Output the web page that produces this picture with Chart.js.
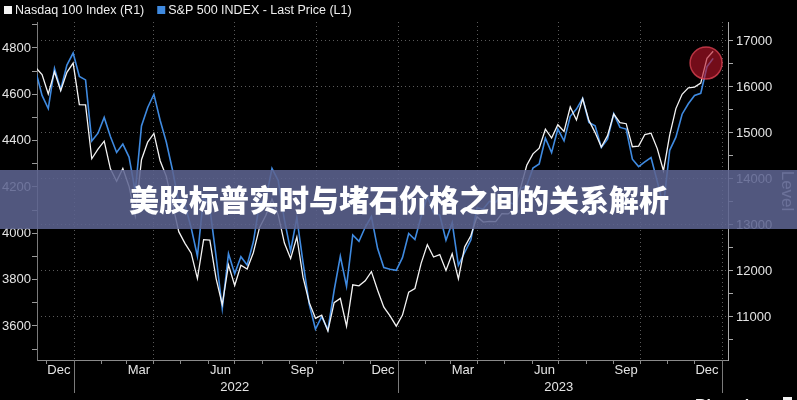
<!DOCTYPE html>
<html>
<head>
<meta charset="utf-8">
<script src="https://cdn.jsdelivr.net/npm/chart.js@4.4.1/dist/chart.umd.min.js"></script>
<style>
  html, body { margin: 0; padding: 0; background: #000; }
  #wrap { width: 797px; height: 400px; }
</style>
</head>
<body>
<div id="wrap"><canvas id="chart" width="797" height="400"></canvas></div>
<script>
// weekly closes, first one on this date
const firstWeek = "2021-11-19";

// S&P 500 (left axis, L1)
const spx = [
  4698, 4595, 4538, 4712, 4621, 4726, 4778,
  4677, 4662, 4398, 4432, 4500, 4418, 4349, 4385, 4329, 4180, 4463, 4543,
  4600, 4488, 4393, 4272, 4132, 4123, 4023, 3901, 4158, 4109, 3901, 3675,
  3912, 3825, 3899, 3863, 3962, 4130, 4145, 4280, 4228, 4058, 3924, 4067,
  3873, 3693, 3586, 3640, 3583, 3753, 3901, 3771, 3993, 3965, 4026, 4072,
  3934, 3852, 3845, 3840,
  3895, 3999, 3973, 4071, 4160, 4090, 4079, 3970, 4046, 3862, 3917, 3971,
  4109, 4105, 4138, 4133, 4169, 4136, 4124, 4192, 4205, 4282, 4299, 4410,
  4348, 4450, 4399, 4505, 4536, 4582, 4478, 4464, 4370, 4406, 4516, 4457,
  4450, 4320, 4288, 4308, 4327, 4224, 4117, 4358, 4415, 4514, 4559, 4595,
  4604, 4719, 4755
];

// Nasdaq 100 (right axis, R1)
const ndx = [
  16420, 16268, 15849, 16331, 15918, 16318, 16520,
  15615, 15611, 14440, 14648, 14822, 14221, 13949, 14229, 13838, 13200, 14420, 14801,
  14990, 14398, 14053, 13453, 12855, 12601, 12387, 11835, 12681, 12673, 11840, 11271,
  12132, 11686, 12125, 12042, 12397, 12947, 13206, 13565, 13220, 12606, 12271, 12739,
  11861, 11312, 10971, 11039, 10693, 11310, 11405, 10800, 11699, 11677, 11786, 11986,
  11580, 11215, 11024, 10800,
  11041, 11541, 11619, 12166, 12573, 12304, 12358, 12012, 12374, 11830, 12520, 12767,
  13181, 13063, 13079, 13073, 13246, 13241, 13340, 13805, 14299, 14547, 14671, 15083,
  14891, 15179, 15036, 15565, 15283, 15750, 15274, 15009, 14694, 14942, 15413, 15226,
  15202, 14701, 14715, 14966, 14996, 14661, 14180, 14955, 15530, 15842, 15983, 15997,
  16085, 16624, 16778
];

const leftTicks = [3600, 3800, 4000, 4200, 4400, 4600, 4800];
const rightTicks = [11000, 12000, 13000, 14000, 15000, 16000, 17000];
const monthLabels = ["Dec", "Mar", "Jun", "Sep", "Dec", "Mar", "Jun", "Sep", "Dec"];
const monthLabelDates = ["2021-12-15", "2022-03-15", "2022-06-15", "2022-09-15", "2022-12-15",
  "2023-03-15", "2023-06-15", "2023-09-15", "2023-12-15"];
const yearLabels = ["2022", "2023"];
const yearMids = ["2022-07-01", "2023-07-01"];
const yearStarts = ["2022-01-01", "2023-01-01", "2024-01-01"];
const titleText = "美股标普实时与堵石价格之间的关系解析";

const DAY = 864e5;
const origin = Date.parse("2022-01-01");
function dayOf(s) { return (Date.parse(s) - origin) / DAY; }

const x0 = dayOf(firstWeek);
const spxPts = spx.map((v, i) => ({ x: x0 + 7 * i, y: v }));
const ndxPts = ndx.map((v, i) => ({ x: x0 + 7 * i, y: v }));

// month starts for the axis tick marks
const monthStarts = [];
for (let y = 2021; y <= 2024; y++) {
  for (let m = 0; m < 12; m++) {
    const d = (Date.UTC(y, m, 1) - origin) / DAY;
    if (d > -42 && d < 737) monthStarts.push({ d: d, q: m % 3 === 0 });
  }
}

const tickFont = { family: "'Liberation Sans', Arial, sans-serif", size: 13 };

const overlay = {
  id: "overlay",
  beforeDraw(chart) {
    const ctx = chart.ctx;
    ctx.save();
    ctx.fillStyle = "#000";
    ctx.fillRect(0, 0, chart.width, chart.height);
    ctx.restore();
  },
  afterDatasetsDraw(chart) {
    const ctx = chart.ctx;
    const cx = chart.scales.x.getPixelForValue(dayOf("2023-12-14"));
    const cy = chart.scales.y1.getPixelForValue(16520);
    ctx.save();
    ctx.beginPath();
    ctx.arc(cx, cy, 16, 0, Math.PI * 2);
    ctx.fillStyle = "rgba(185, 20, 40, 0.62)";
    ctx.fill();
    ctx.lineWidth = 1.5;
    ctx.strokeStyle = "rgba(225, 70, 85, 0.75)";
    ctx.stroke();
    ctx.restore();
  },
  afterDraw(chart) {
    const ctx = chart.ctx;
    const xs = chart.scales.x;
    const area = chart.chartArea;
    ctx.save();

    // month + year labels
    ctx.font = "13px 'Liberation Sans', Arial, sans-serif";
    ctx.fillStyle = "#e4e4e4";
    ctx.textAlign = "center";
    ctx.textBaseline = "middle";
    monthLabels.forEach((m, i) => {
      ctx.fillText(m, xs.getPixelForValue(dayOf(monthLabelDates[i])), area.bottom + 10);
    });
    yearLabels.forEach((yl, i) => {
      ctx.fillText(yl, xs.getPixelForValue(dayOf(yearMids[i])), area.bottom + 27);
    });

    // year separators below the axis
    ctx.strokeStyle = "#7a7a7a";
    ctx.lineWidth = 1;
    yearStarts.forEach(s => {
      const px = Math.round(xs.getPixelForValue(dayOf(s))) + 0.5;
      ctx.beginPath();
      ctx.moveTo(px, area.bottom);
      ctx.lineTo(px, area.bottom + 33);
      ctx.stroke();
    });

    // legend
    ctx.font = "12.5px 'Liberation Sans', Arial, sans-serif";
    ctx.textAlign = "left";
    let lx = 4;
    chart.data.datasets.forEach(ds => {
      ctx.fillStyle = ds.borderColor;
      ctx.fillRect(lx, 6, 8, 8);
      ctx.fillStyle = "#eeeeee";
      ctx.fillText(ds.label, lx + 11, 11);
      lx += 11 + ctx.measureText(ds.label).width + 13;
    });

    // Bloomberg mark, cut off at the bottom
    ctx.font = "bold 16px 'Liberation Sans', Arial, sans-serif";
    ctx.textBaseline = "top";
    ctx.fillStyle = "#f2f2f2";
    ctx.fillText("Bloomberg", 695, 399);
    ctx.fillRect(783, 397, 9, 9);

    // title band
    ctx.fillStyle = "rgba(93, 100, 145, 0.87)";
    ctx.fillRect(0, 170, chart.width, 59);
    ctx.font = "900 30px 'Noto Sans CJK SC', sans-serif";
    ctx.fillStyle = "#ffffff";
    ctx.textAlign = "center";
    ctx.textBaseline = "middle";
    ctx.fillText(titleText, 399, 200);

    ctx.restore();
  }
};

new Chart(document.getElementById("chart"), {
  type: "line",
  data: {
    datasets: [
      {
        label: "Nasdaq 100 Index (R1)",
        data: ndxPts,
        yAxisID: "y1",
        borderColor: "#f4f4f4",
        borderWidth: 1.3,
        pointRadius: 0,
        tension: 0
      },
      {
        label: "S&P 500 INDEX - Last Price (L1)",
        data: spxPts,
        yAxisID: "y",
        borderColor: "#3f8ae0",
        borderWidth: 1.6,
        pointRadius: 0,
        tension: 0
      }
    ]
  },
  options: {
    responsive: false,
    animation: false,
    devicePixelRatio: 1,
    layout: { padding: { top: 22, left: 0, right: 0, bottom: 0 } },
    plugins: {
      legend: { display: false },
      tooltip: { enabled: false }
    },
    scales: {
      x: {
        type: "linear",
        min: -41.7,
        max: 736.7,
        afterBuildTicks: s => { s.ticks = monthStarts.map(m => ({ value: m.d })); },
        afterFit: s => { s.height = 40; },
        ticks: { display: false },
        grid: {
          color: c => (c.tick && monthStarts.find(m => m.d === c.tick.value && m.q)) ? "#5a5a5a" : "rgba(0,0,0,0)",
          tickColor: "#8a8a8a",
          tickLength: 4,
          tickWidth: 1,
          tickBorderDash: []
        },
        border: { color: "#8a8a8a", dash: [1, 3] }
      },
      y: {
        position: "left",
        min: 3453,
        max: 4912,
        afterBuildTicks: s => {
          const t = [];
          leftTicks.forEach(v => { t.push({ value: v - 100 }, { value: v }); });
          t.push({ value: 4900 });
          s.ticks = t;
        },
        afterFit: s => { s.width = 37; },
        ticks: {
          autoSkip: false,
          padding: 1,
          color: "#e4e4e4",
          font: tickFont,
          callback: v => leftTicks.includes(v) ? String(v) : ""
        },
        grid: { drawOnChartArea: false, tickLength: 5, tickColor: "#9a9a9a" },
        border: { color: "#7a7a7a" }
      },
      y1: {
        position: "right",
        min: 10065,
        max: 17413,
        afterBuildTicks: s => {
          const t = [];
          rightTicks.forEach(v => { t.push({ value: v - 500 }, { value: v }); });
          s.ticks = t;
        },
        afterFit: s => { s.width = 69; },
        ticks: {
          autoSkip: false,
          padding: 3,
          color: "#e4e4e4",
          font: tickFont,
          callback: v => rightTicks.includes(v) ? String(v) : ""
        },
        grid: {
          color: c => (c.tick && rightTicks.includes(c.tick.value)) ? "#5a5a5a" : "rgba(0,0,0,0)",
          tickLength: 5,
          tickColor: "#a8a8a8",
          tickWidth: 1,
          tickBorderDash: []
        },
        border: { color: "#a8a8a8", dash: [1, 3] },
        title: {
          display: true,
          text: "Level",
          color: "#c8c8d0",
          padding: 0,
          font: { family: "'Liberation Sans', Arial, sans-serif", size: 17 }
        }
      }
    }
  },
  plugins: [overlay]
});
</script>
</body>
</html>
